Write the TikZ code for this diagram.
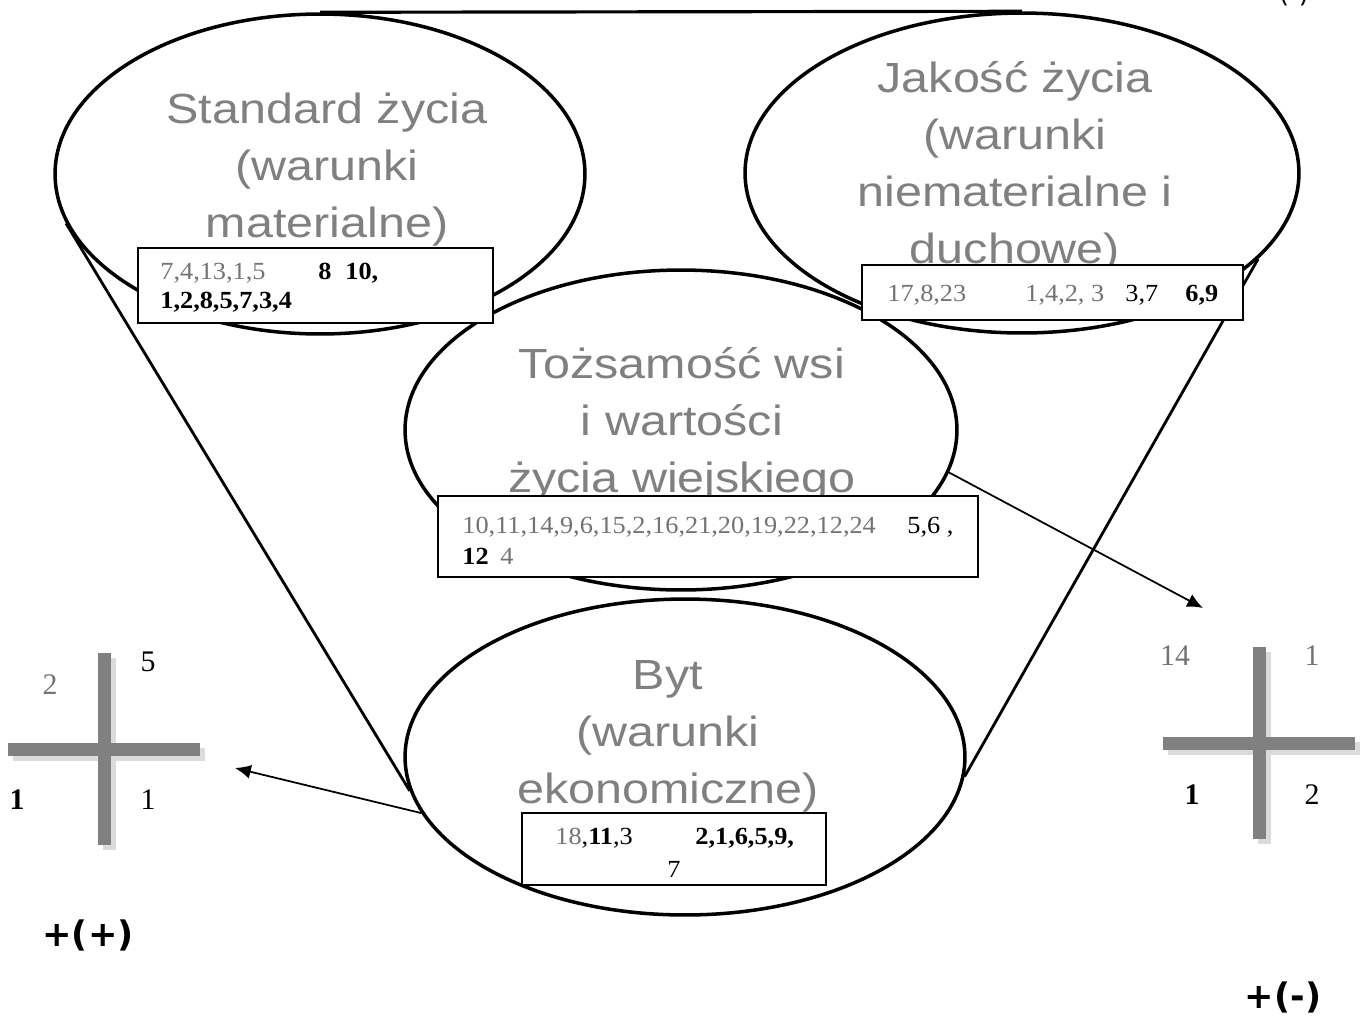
\documentclass[tikz,border=0pt]{standalone}
\usepackage{fontspec}
\setmainfont{Liberation Serif}
\newfontfamily\ellfont[FakeStretch=1.15]{Liberation Sans}
\newfontfamily\numfont[FakeStretch=1.07]{Liberation Serif}
\newfontfamily\signfont{DejaVu Sans}
\usetikzlibrary{shapes.geometric, arrows.meta, positioning}
\definecolor{txtgray}{gray}{0.5}
\definecolor{numgray}{gray}{0.45}
\definecolor{bargray}{gray}{0.5}
\definecolor{shadegray}{gray}{0.86}
\tikzset{
    sphere/.style={draw, ellipse, line width=2pt, inner sep=0pt},
    title/.style={font=\ellfont\fontsize{24}{32.4}\selectfont, text=txtgray, align=center},
    numbox/.style={draw, fill=white, line width=1.1pt, inner sep=0pt},
    num/.style={font=\numfont\fontsize{14}{16}\selectfont, anchor=base west, inner sep=0pt},
    numg/.style={num, text=numgray},
    numb/.style={num, font=\numfont\bfseries\fontsize{14}{16}\selectfont},
    lbl/.style={font=\fontsize{17}{20}\selectfont, inner sep=0pt},
    sign/.style={font=\signfont\bfseries\fontsize{20}{24}\selectfont, inner sep=0pt}
}

\begin{document}
\begin{tikzpicture}[x=.02cm, y=-.02cm, >={Latex[length=9pt,width=8pt]}]
\useasboundingbox (0,0) rectangle (1367,1019);
% the four spheres and the cone round them
\node[sphere, minimum width=10.6cm, minimum height=6.4cm] (std) at (320,174) {};
\node[sphere, minimum width=11.08cm, minimum height=6.4cm] (jak) at (1022,173) {};
\node[sphere, minimum width=11.04cm, minimum height=6.4cm] (toz) at (681,430) {};
\node[sphere, minimum width=11.2cm, minimum height=6.32cm] (byt) at (685,757) {};
\draw[line width=1.8pt] (std.north) -- (jak.north);
\draw[line width=1.6pt] (std.191) -- (byt.187);
\draw[line width=1.6pt] (jak.340) -- (byt.356);

\node[title] (stdt) at (327,170) {Standard życia\\(warunki\\materialne)};
\node[title] (jakt) at (1015,167) {Jakość życia\\(warunki\\niematerialne i\\duchowe)};
\node[title] (tozt) at (682,424) {Tożsamość wsi\\i wartości\\życia wiejskiego};
\node[title] (bytt) at (668,736) {Byt\\(warunki\\ekonomiczne)};

% boxes with numbers
\node[numbox, minimum width=7.1cm, minimum height=1.5cm] (box1) at (315.5,285.5) {};
\node[numbox, minimum width=7.62cm, minimum height=1.1cm] (box2) at (1052.5,292.5) {};
\node[numbox, minimum width=10.8cm, minimum height=1.62cm] (box3) at (708,536.5) {};
\node[numbox, minimum width=6.08cm, minimum height=1.44cm] (box4) at (674,849) {};

\node[numg] (a1) at (160,279) {7,4,13,1,5};
\node[numb] (a2) at (318,279) {8};
\node[numb] (a3) at (345,279) {10,};
\node[numb] (a4) at (160,308) {1,2,8,5,7,3,4};

\node[numg] (b1) at (887,301) {17,8,23};
\node[numg] (b2) at (1025,301) {1,4,2, 3};
\node[num] (b3) at (1125,301) {3,7};
\node[numb] (b4) at (1185,301) {6,9};

\node[numg] (c1) at (462,533) {10,11,14,9,6,15,2,16,21,20,19,22,12,24};
\node[num] (c2) at (907,533) {5,6 ,};
\node[numb] (c3) at (462,564) {12};
\node[numg] (c4) at (500,564) {4};

\node[num] (d1) at (555,844) {{\color{numgray}18},\textbf{11},3};
\node[numb] (d2) at (695,844) {2,1,6,5,9,};
\node[num] (d3) at (667,877) {7};

% crosses
\foreach \cx/\cy in {104/749, 1259/743}
{
    \fill[shadegray] (\cx-1.5,\cy-91) rectangle (\cx+11.5,\cy+101);
    \fill[shadegray] (\cx-91,\cy-1.5) rectangle (\cx+101,\cy+11.5);
    \fill[bargray] (\cx-6.5,\cy-96) rectangle (\cx+6.5,\cy+96);
    \fill[bargray] (\cx-96,\cy-6.5) rectangle (\cx+96,\cy+6.5);
}
\node[lbl, text=numgray] (l1) at (50,685) {2};
\node[lbl] (l2) at (148,662) {5};
\node[lbl, font=\bfseries\fontsize{17}{20}\selectfont] (l3) at (17,800) {1};
\node[lbl] (l4) at (148,800) {1};
\node[lbl, text=numgray] (r1) at (1175,656) {14};
\node[lbl, text=numgray] (r2) at (1312,656) {1};
\node[lbl, font=\bfseries\fontsize{17}{20}\selectfont] (r3) at (1192,795) {1};
\node[lbl] (r4) at (1312,795) {2};

\node[sign] (plus) at (88,935) {+(+)};
\node[sign] (minus) at (1283,997) {+(-)};
\node[font=\signfont\fontsize{15}{18}\selectfont, anchor=south, inner sep=0pt] (top) at (1294,6) {(-)};

% arrows
\coordinate (rtip) at (1203,608);
\coordinate (ltip) at (235,768);
\draw[->, line width=1pt] (toz.-9) -- (rtip);
\draw[->, line width=1pt] (byt.192) -- (ltip);
\end{tikzpicture}
\end{document}
